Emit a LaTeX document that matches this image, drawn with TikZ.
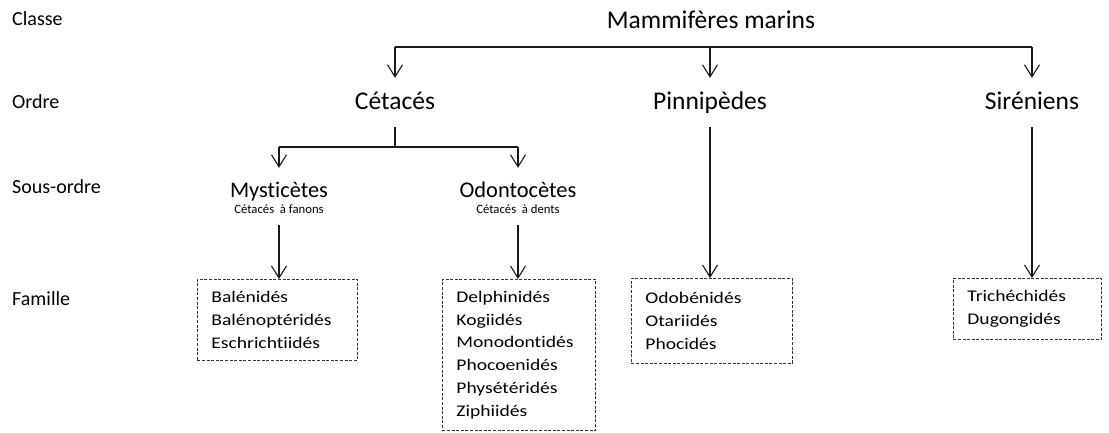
\documentclass[tikz,border=0pt]{standalone}
\usepackage{fontspec}
\setmainfont[Ligatures=NoCommon]{Carlito}
\newfontfamily\boxfont[FakeStretch=1.2,Ligatures=NoCommon]{Carlito}
\usetikzlibrary{arrows.meta}
\begin{document}
\begin{tikzpicture}[x=1pt,y=-1pt,
  every node/.style={text=black},
  ttl/.style={font=\fontsize{25.5}{30}\selectfont, anchor=base, inner sep=0pt, text height=31pt, text depth=18pt},
  lvltwo/.style={font=\fontsize{22.4}{26}\selectfont, anchor=base, inner sep=0pt, text height=29pt, text depth=0pt},
  subtxt/.style={font=\fontsize{12.7}{15}\selectfont, anchor=base, inner sep=0pt, text height=0pt, text depth=12pt},
  rowlab/.style={font=\fontsize{20}{24}\selectfont, anchor=base west, inner sep=0pt},
  fam/.style={draw=black!80, dash pattern=on 3pt off 1.6pt, line width=0.9pt, anchor=north west,
    align=left, font=\boxfont\fontsize{16.3}{22.8}\selectfont, inner xsep=14pt, inner ysep=0pt},
  conn/.style={line width=1.1pt, draw=black!90},
  arr/.style={conn, -{Straight Barb[length=12pt,width=15pt]}}
]
\useasboundingbox (0,0) rectangle (1109,432);

% row labels
\node[rowlab] (rc) at (12,25) {Classe};
\node[rowlab] (ro) at (12,108) {Ordre};
\node[rowlab] (rs) at (12,193) {Sous-ordre};
\node[rowlab] (rf) at (12,305) {Famille};

% class
\node[font=\fontsize{25.5}{30}\selectfont, anchor=base, inner sep=0pt] (mm) at (711,28) {Mammifères marins};

% orders
\node[ttl] (cet) at (395,109) {Cétacés};
\node[ttl] (pin) at (710,109) {Pinnipèdes};
\node[ttl] (sir) at (1032,109) {Siréniens};

% sub-orders
\node[lvltwo] (mys) at (279,197) {Mysticètes};
\node[subtxt] (mysS) at (279,213) {Cétacés\ \ à fanons};
\node[lvltwo] (odo) at (518,197) {Odontocètes};
\node[subtxt] (odoS) at (518,213) {Cétacés\ \ à dents};

% families
\node[fam, text width=132pt, minimum height=81pt] (fmys) at (197,279)
  {Balénidés\\Balénoptéridés\\Eschrichtiidés};
\node[fam, text width=125pt, minimum height=151pt] (fodo) at (442,279)
  {Delphinidés\\Kogiidés\\Monodontidés\\Phocoenidés\\Physétéridés\\Ziphiidés};
\node[fam, text width=133pt, minimum height=85pt] (fpin) at (631,278)
  {Odobénidés\\Otariidés\\Phocidés};
\node[fam, text width=120pt, minimum height=61pt] (fsir) at (953,278)
  {Trichéchidés\\Dugongidés};

% connectors
\coordinate (bL) at (395,47);
\coordinate (bR) at (1032,47);
\draw[conn] (bL) -- (bR);
\draw[arr] (bL) -- (cet.north);
\draw[arr] (pin.north |- bL) -- (pin.north);
\draw[arr] (bR) -- (sir.north);

\coordinate (cL) at (279,147);
\coordinate (cR) at (518,147);
\draw[conn] (cet.south) -- (cet.south |- cL);
\draw[conn] (cL) -- (cR);
\draw[arr] (cL) -- (mys.north);
\draw[arr] (cR) -- (odo.north);

\draw[arr] (mysS.south) -- (mysS.south |- fmys.north);
\draw[arr] (odoS.south) -- (odoS.south |- fodo.north);
\draw[arr] (pin.south) -- (pin.south |- fpin.north);
\draw[arr] (sir.south) -- (sir.south |- fsir.north);
\end{tikzpicture}
\end{document}
